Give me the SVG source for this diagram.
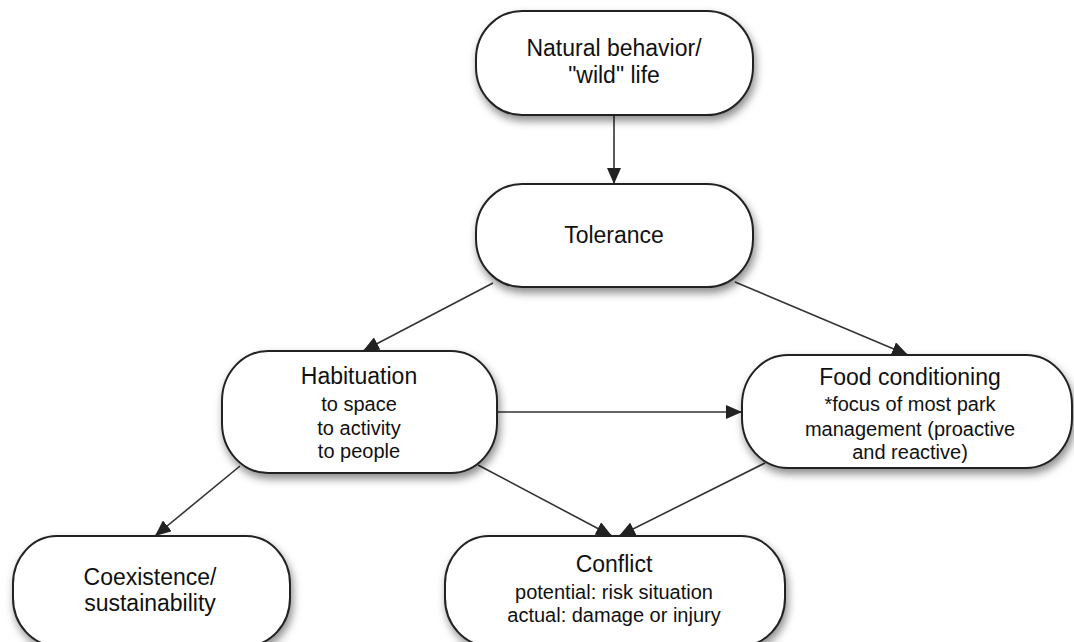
<svg xmlns="http://www.w3.org/2000/svg" width="1074" height="642" viewBox="0 0 1074 642">
<style>
.node{fill:#fff;stroke:#222;stroke-width:2;filter:url(#sh)}
.t{font-family:"Liberation Sans",Arial,sans-serif;font-size:23px;fill:#111;text-anchor:middle}
.s{font-family:"Liberation Sans",Arial,sans-serif;font-size:20px;fill:#111;text-anchor:middle}
.c{fill:none;stroke:#333;stroke-width:1.6;marker-end:url(#ah)}
</style>
<defs>
<filter id="sh" x="-20%" y="-20%" width="140%" height="150%">
<feDropShadow dx="2" dy="5" stdDeviation="4" flood-color="#000" flood-opacity="0.45"/>
</filter>
<marker id="ah" markerUnits="userSpaceOnUse" markerWidth="16" markerHeight="14" viewBox="0 0 16 14" refX="16" refY="7" orient="auto">
<path d="M0,0 L16,7 L0,14 Z" fill="#222"/>
</marker>
</defs>
<g id="connectors">
<path class="c" d="M614,115 L614,184"/>
<path class="c" d="M493,283 L363,351"/>
<path class="c" d="M735,282 L908,355"/>
<path class="c" d="M497,412 L742,412"/>
<path class="c" d="M240,466 L155,536"/>
<path class="c" d="M478,465 L612,536"/>
<path class="c" d="M765,463 L619,536"/>
</g>
<g id="natural">
<rect class="node" x="476" y="11" width="277" height="104" rx="46" ry="48"/>
<text class="t" x="614" y="56">Natural behavior/</text>
<text class="t" x="614" y="83">"wild" life</text>
</g>
<g id="tolerance">
<rect class="node" x="476" y="184" width="277" height="103" rx="46" ry="48"/>
<text class="t" x="614" y="243">Tolerance</text>
</g>
<g id="habituation">
<rect class="node" x="222" y="351" width="275" height="122" rx="46" ry="50"/>
<text class="t" x="359" y="384">Habituation</text>
<text class="s" x="359" y="411">to space</text>
<text class="s" x="359" y="435">to activity</text>
<text class="s" x="359" y="458">to people</text>
</g>
<g id="food">
<rect class="node" x="742" y="355" width="330" height="113" rx="46" ry="50"/>
<text class="t" x="910" y="385">Food conditioning</text>
<text class="s" x="910" y="411">*focus of most park</text>
<text class="s" x="910" y="436">management (proactive</text>
<text class="s" x="910" y="459">and reactive)</text>
</g>
<g id="coexistence">
<rect class="node" x="13" y="536" width="277" height="110" rx="44" ry="48"/>
<text class="t" x="150" y="585">Coexistence/</text>
<text class="t" x="150" y="611">sustainability</text>
</g>
<g id="conflict">
<rect class="node" x="445" y="536" width="340" height="110" rx="44" ry="48"/>
<text class="t" x="614" y="572">Conflict</text>
<text class="s" x="614" y="599">potential: risk situation</text>
<text class="s" x="614" y="622">actual: damage or injury</text>
</g>
</svg>
